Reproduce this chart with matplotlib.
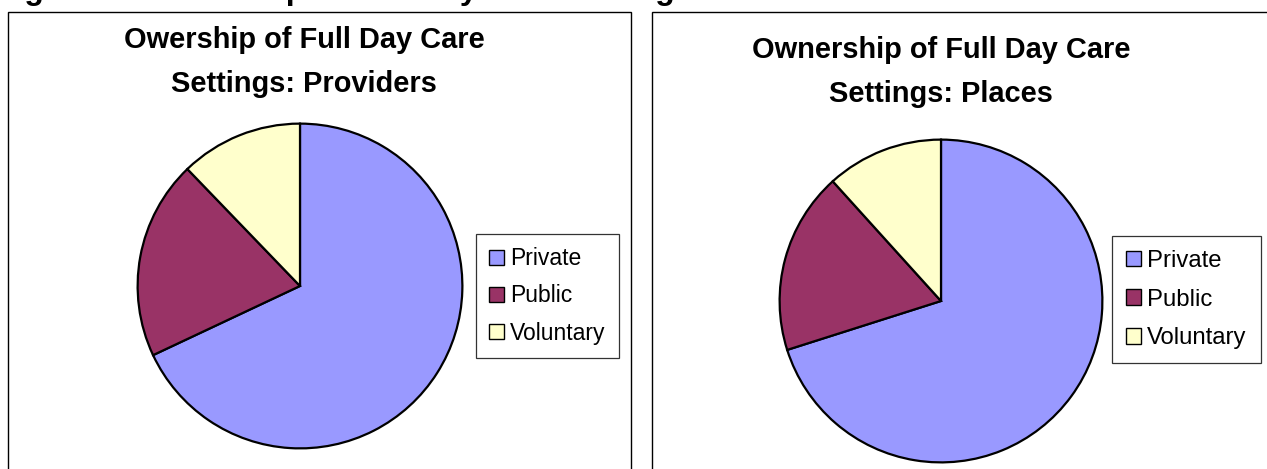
import matplotlib
matplotlib.use("Agg")
import matplotlib.pyplot as plt
from matplotlib.patches import Rectangle

categories = ["Private", "Public", "Voluntary"]
providers = [68.0, 19.8, 12.2]
places = [70.1, 18.2, 11.7]
colors = ["#9999FF", "#993366", "#FFFFCC"]
title_left = "Owership of Full Day Care\nSettings: Providers"
title_right = "Ownership of Full Day Care\nSettings: Places"
doc_heading = "Figure 5: Ownership of Full Day Care Settings"

W, H = 1267, 469
fig = plt.figure(figsize=(W / 100, H / 100), dpi=100)
plt.rcParams['font.family'] = ['Liberation Sans', 'DejaVu Sans']

def fx(x):
    return x / W

def fy(y):
    return 1 - y / H

# document heading (only descenders visible at the top edge)
fig.text(fx(-4), fy(-1), doc_heading, fontsize=23, fontweight='bold',
         ha='left', va='baseline')

# panel frames
for x0, x1 in [(8, 631), (652, 1290)]:
    fig.patches.append(Rectangle((fx(x0), fy(480)), fx(x1 - x0), (480 - 12) / H,
                                 transform=fig.transFigure, fill=False,
                                 edgecolor='black', linewidth=1.0, zorder=0))

def draw(values, cx, cy, r, title, tx, ty, leg, lfs, ls):
    ax = fig.add_axes([fx(cx - r), fy(cy + r), 2 * r / W, 2 * r / H])
    wedges, _ = ax.pie(values, colors=colors, startangle=90, counterclock=False,
                       radius=1.0,
                       wedgeprops=dict(edgecolor='black', linewidth=1.6))
    ax.set_xlim(-1.01, 1.01)
    ax.set_ylim(-1.01, 1.01)
    ax.axis('off')
    fig.text(fx(tx), fy(ty), title, ha='center', va='center', fontsize=20.9,
             fontweight='bold', linespacing=1.72)
    lx0, ly0 = leg
    lg = fig.legend(wedges, categories, loc='upper left',
                    bbox_to_anchor=(fx(lx0), fy(ly0)),
                    bbox_transform=fig.transFigure,
                    fontsize=lfs, frameon=True, fancybox=False,
                    handlelength=0.62, handleheight=0.62, handletextpad=0.28,
                    labelspacing=ls, borderpad=0.58, borderaxespad=0)
    fr = lg.get_frame()
    fr.set_edgecolor('black')
    fr.set_linewidth(0.9)
    for h in lg.legend_handles:
        h.set_linewidth(1.0)

draw(providers, 300, 286, 164, title_left, 304, 62, (476, 234), 16.5, 0.62)
draw(places, 941, 301, 163, title_right, 941, 72, (1112, 236), 17.2, 0.7)

fig.savefig("out.png", dpi=100)
